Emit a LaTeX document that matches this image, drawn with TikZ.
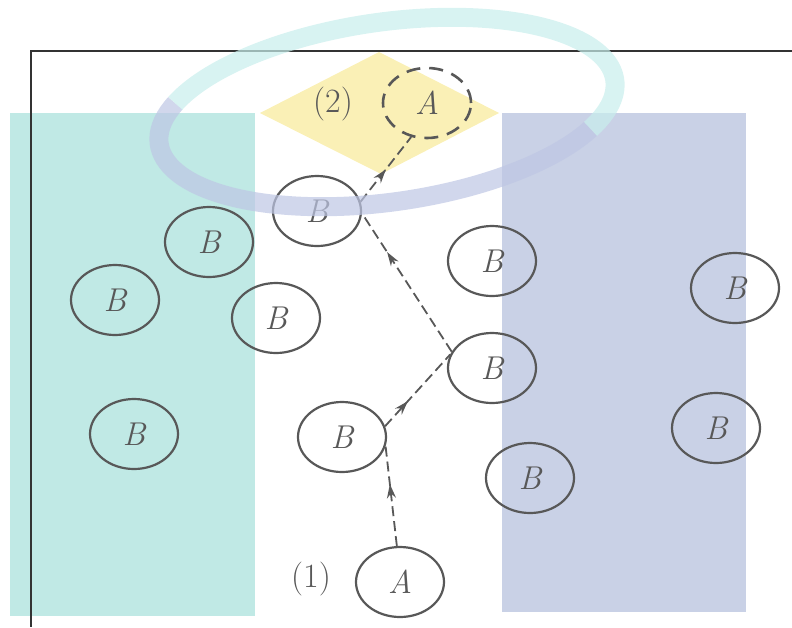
\documentclass[tikz,border=0pt]{standalone}
\usetikzlibrary{arrows.meta,decorations.markings,shapes.geometric}
\definecolor{ink}{RGB}{88,88,88}
\definecolor{wmteal}{RGB}{192,233,229}
\definecolor{wmblue}{RGB}{201,209,230}
\definecolor{wmyellow}{RGB}{250,240,182}
\definecolor{ringteal}{RGB}{200,238,236}
\definecolor{ringblue}{RGB}{190,198,228}
\tikzset{
  part/.style={draw=ink,ellipse,line width=2.2pt,minimum width=88pt,minimum height=70pt,
               inner sep=0pt,text=ink,font=\fontsize{33}{36}\selectfont\itshape},
  partd/.style={part,line width=2.6pt,dash pattern=on 14pt off 9pt},
  tag/.style={text=ink,inner sep=0pt,font=\fontsize{34}{36}\selectfont},
  trk/.style={draw=ink,line width=1.8pt,dash pattern=on 10pt off 5pt,
              postaction={decorate},
              decoration={markings,mark=at position #1 with
                {\arrow{Stealth[length=14pt,width=9pt]}}}},
  ring/.style={line width=19pt,opacity=0.7},
}
\begin{document}
\begin{tikzpicture}[x=1pt,y=-1pt]
  \useasboundingbox (0,0) rectangle (792,627);
  % watermark
  \fill[wmteal] (10,113) rectangle (255,616);
  \fill[wmblue] (502,113) rectangle (746,612);
  \fill[wmyellow] (379,52) -- (499,113) -- (381,174) -- (260,113) -- cycle;
  % frame
  \draw[line width=1.8pt,draw=black!80] (792,51) -- (31,51) -- (31,627);

  % particles
  \node[part] (b1)  at (317,211) {B};
  \node[part] (b2)  at (209,242) {B};
  \node[part] (b3)  at (115,300) {B};
  \node[part] (b4)  at (276,318) {B};
  \node[part] (b5)  at (492,261) {B};
  \node[part] (b6)  at (735,288) {B};
  \node[part] (b7)  at (492,368) {B};
  \node[part] (b8)  at (134,434) {B};
  \node[part] (b9)  at (342,437) {B};
  \node[part] (b10) at (530,478) {B};
  \node[part] (b11) at (716,428) {B};

  \node[part]  (a1) at (400,582) {A};
  \node[partd] (a2) at (427,103) {A};
  \node[tag] (one) at (311,579) {(1)};
  \node[tag] (two) at (333,104) {(2)};

  % path of A
  \draw[trk=0.62] (a1.95) -- (b9.-12);
  \draw[trk=0.35] (b9.14) -- (b7.162);
  \draw[trk=0.72] (b7.158) -- (b1.-3);
  \draw[trk=0.5]  (b1.12) -- (a2.245);

  % watermark ring
  \begin{scope}[rotate around={8:(387,112)}]
    \draw[ring,ringblue] (387,112) ++(30:230 and 90) arc[start angle=30,end angle=205,x radius=230,y radius=90];
    \draw[ring,ringteal] (387,112) ++(205:230 and 90) arc[start angle=205,end angle=390,x radius=230,y radius=90];
  \end{scope}
\end{tikzpicture}
\end{document}
